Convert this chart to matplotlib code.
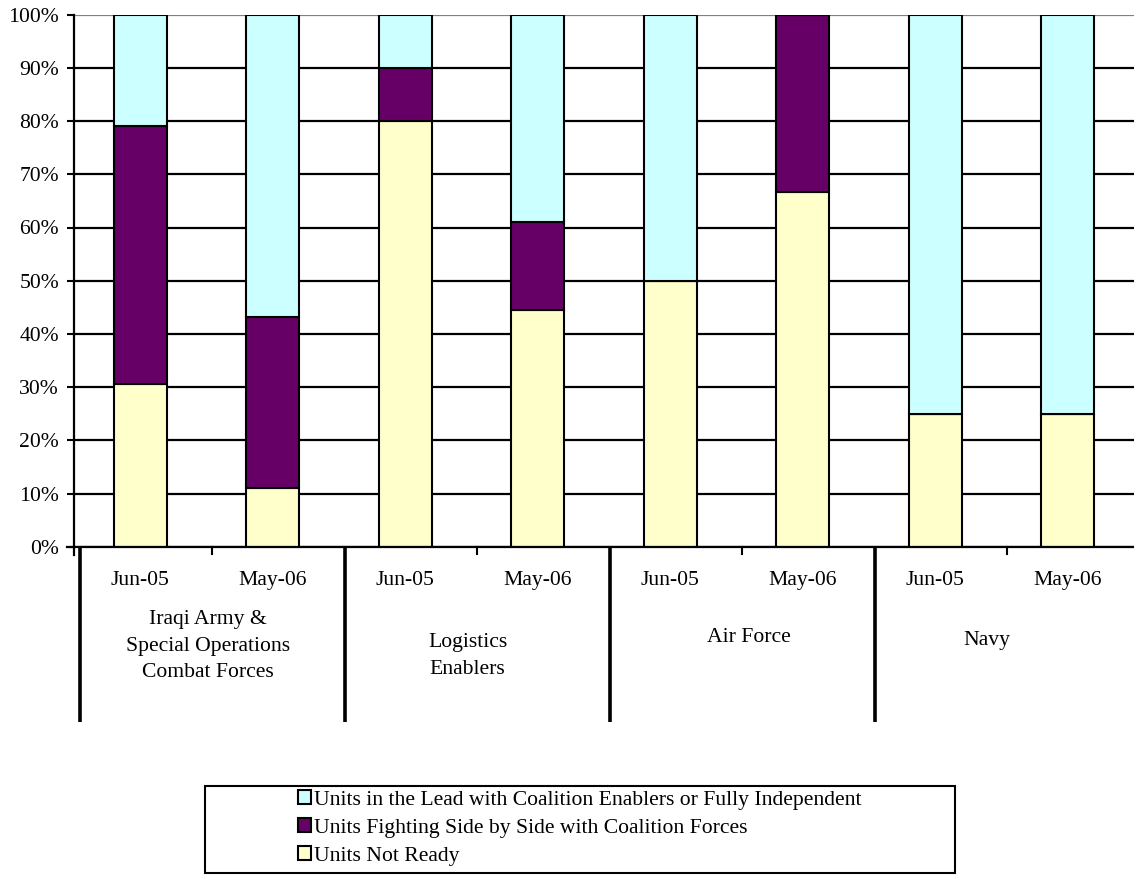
import matplotlib
matplotlib.use("Agg")
import matplotlib.pyplot as plt
import numpy as np
from matplotlib.patches import Patch, Rectangle

plt.rcParams['font.family'] = ['Liberation Serif', 'DejaVu Serif']

# Readiness shares (percent) per force and period
periods = ['Jun-05', 'May-06'] * 4
forces = ['Iraqi Army &\nSpecial Operations\nCombat Forces', 'Logistics\nEnablers',
          'Air Force', 'Navy']
not_ready = [30.6, 11.0, 80.0, 44.4, 50.0, 66.7, 25.0, 25.0]
side_by_side = [48.5, 32.2, 10.0, 16.7, 0.0, 33.3, 0.0, 0.0]
in_lead = [20.9, 56.8, 10.0, 38.9, 50.0, 0.0, 75.0, 75.0]

series_names = ['Units Not Ready',
                'Units Fighting Side by Side with Coalition Forces',
                'Units in the Lead with Coalition Enablers or Fully Independent']
colors = ['#FFFFCC', '#660066', '#CCFFFF']
fs = 15.6

fig = plt.figure(figsize=(11.34, 8.75), dpi=100)
ax = fig.add_axes([74 / 1134, 1 - 546.7 / 875, 1060 / 1134, 532 / 875])

x = np.arange(len(periods))
bottom = np.zeros(len(periods))
for vals, col in zip([not_ready, side_by_side, in_lead], colors):
    ax.bar(x, vals, width=0.4, bottom=bottom, color=col,
           edgecolor='black', linewidth=1.5, zorder=3)
    bottom += np.array(vals)

ax.set_xlim(-0.5, 7.5)
ax.set_ylim(0, 100)
ax.set_yticks(np.arange(0, 101, 10))
ax.set_yticklabels([f'{v}%' for v in range(0, 101, 10)], fontsize=fs)
ax.tick_params(axis='y', direction='out', length=5.2, width=1.5, pad=5.5)
ax.yaxis.grid(True, color='black', linewidth=1.6, zorder=0)
ax.set_axisbelow(True)
ax.yaxis.get_gridlines()[-1].set_color('#808080')

for s in ax.spines.values():
    s.set_visible(False)

# axis lines
ax.plot([-0.5, -0.5], [-1.5, 100], color='black', lw=1.6, clip_on=False, zorder=4)
ax.plot([-0.555, 7.5], [0, 0], color='black', lw=1.6, clip_on=False, zorder=4)

# period labels under each bar
ax.set_xticks(x)
ax.set_xticklabels(periods, fontsize=fs)
ax.tick_params(axis='x', length=0, pad=17.5)

# group separators and minor ticks on the category axis
trans = ax.get_xaxis_transform()
shift = 0.045
for g in range(len(forces)):
    left = 2 * g - 0.5 + shift
    ax.plot([left, left], [0, -(722 - 546.7) / 532], color='black', lw=2.6,
            transform=trans, clip_on=False, solid_capstyle='butt')
    mid = 2 * g + 0.5 + shift
    ax.plot([mid, mid], [0, -7 / 532], color='black', lw=1.5,
            transform=trans, clip_on=False)

label_x = [0.51, 2.47, 4.59, 6.39]
label_y = [646, 656, 637, 640]
for name, lx, ly in zip(forces, label_x, label_y):
    ax.text(lx, -(ly - 546.7) / 532, name, transform=trans, ha='center',
            va='center', fontsize=fs, linespacing=1.55)

# legend box with entries listed top series first
fig.add_artist(Rectangle((205 / 1134, 1 - 873 / 875), 750 / 1134, 87 / 875,
                         transform=fig.transFigure, facecolor='white',
                         edgecolor='black', linewidth=1.5))
handles = [Patch(facecolor=c, edgecolor='black', linewidth=1.5) for c in colors]
fig.legend(handles[::-1], series_names[::-1], loc='center left',
           bbox_to_anchor=(298 / 1134, 1 - 828 / 875), frameon=False,
           fontsize=fs, handlelength=0.6, handleheight=0.6,
           handletextpad=0.15, labelspacing=0.4, borderpad=0, borderaxespad=0)

fig.savefig('out.png', dpi=100, facecolor='white')
